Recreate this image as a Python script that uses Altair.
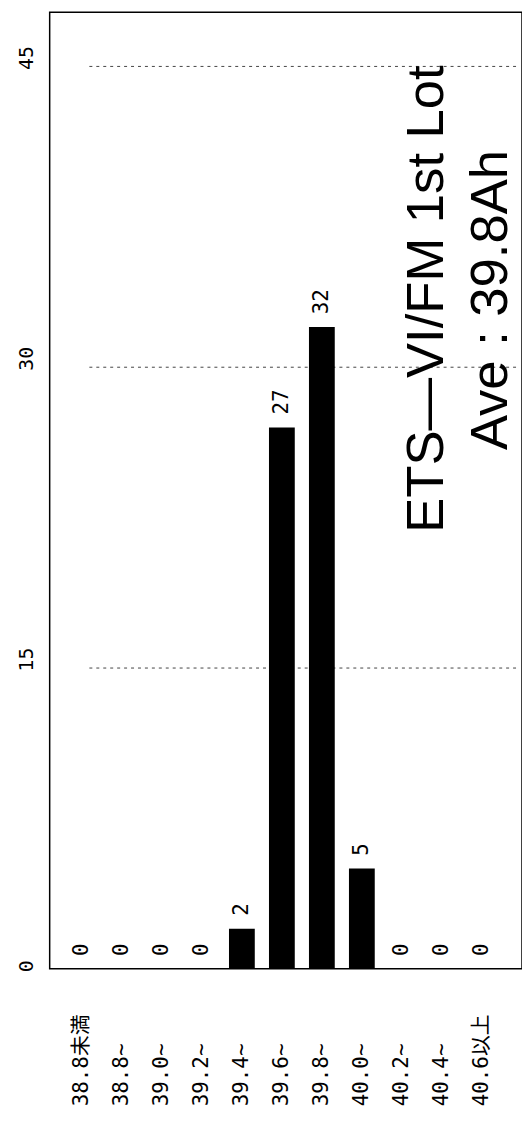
import altair as alt
import pandas as pd

categories = ["38.8未満", "38.8~", "39.0~", "39.2~", "39.4~", "39.6~",
              "39.8~", "40.0~", "40.2~", "40.4~", "40.6以上"]
counts = [0, 0, 0, 0, 2, 27, 32, 5, 0, 0, 0]
value_ticks = [0, 15, 30, 45]
grid_values = [15, 30, 45]
title_line1 = "ETS—VI/FM 1st Lot"
title_line2 = "Ave : 39.8Ah"

df = pd.DataFrame({"cat": categories, "n": counts})
grid_df = pd.DataFrame({"v": grid_values})

mono = "DejaVu Sans Mono, Noto Sans CJK JP"

x_enc = alt.X(
    "cat:N", sort=categories, title=None,
    scale=alt.Scale(paddingInner=0.355, paddingOuter=0.583, align=0.415),
    axis=alt.Axis(labelAngle=270, labelAlign="left", labelBaseline="middle",
                  labelPadding=138, ticks=False, domain=False,
                  labelFont=mono, labelFontSize=21, labelColor="black",
                  labelOverlap=False),
)
y_scale = alt.Scale(domain=[0, 47.7], nice=False, zero=True)
y_enc = alt.Y(
    "n:Q", title=None, scale=y_scale,
    axis=alt.Axis(values=value_ticks, labelAngle=270, labelAlign="left",
                  labelBaseline="middle", labelPadding=23, labelOffset=3,
                  ticks=False, domain=False, grid=False,
                  labelFont=mono, labelFontSize=20, labelColor="black"),
)

grid = alt.Chart(grid_df).mark_rule(
    color="#444", strokeWidth=1, strokeDash=[3, 4]
).encode(
    y=alt.Y("v:Q", scale=y_scale),
    x=alt.value(40), x2=alt.value(472),
)

bars = alt.Chart(df).mark_bar(color="black").encode(x=x_enc, y=y_enc)

labels = alt.Chart(df).mark_text(
    angle=270, align="left", baseline="middle", dx=13,
    font=mono, fontSize=21, color="black"
).encode(x=alt.X("cat:N", sort=categories), y=alt.Y("n:Q", scale=y_scale),
         text=alt.Text("n:Q"))

t1 = alt.Chart(pd.DataFrame({"t": [title_line1]})).mark_text(
    angle=270, align="center", baseline="middle",
    font="Liberation Sans", fontSize=53, color="black"
).encode(text="t:N", x=alt.value(380), y=alt.value(289))

t2 = alt.Chart(pd.DataFrame({"t": [title_line2]})).mark_text(
    angle=270, align="center", baseline="middle",
    font="Liberation Sans", fontSize=53, color="black"
).encode(text="t:N", x=alt.value(445), y=alt.value(290))

chart = alt.layer(grid, bars, labels, t1, t2).properties(
    width=476, height=964,
    padding={"left": 42, "top": 0, "right": 0, "bottom": 145},
    autosize=alt.AutoSizeParams(type="none"),
    background="white",
).configure_view(stroke="black", strokeWidth=1.5)

chart.save("out.html", embed_options={"renderer": "svg", "actions": False})
